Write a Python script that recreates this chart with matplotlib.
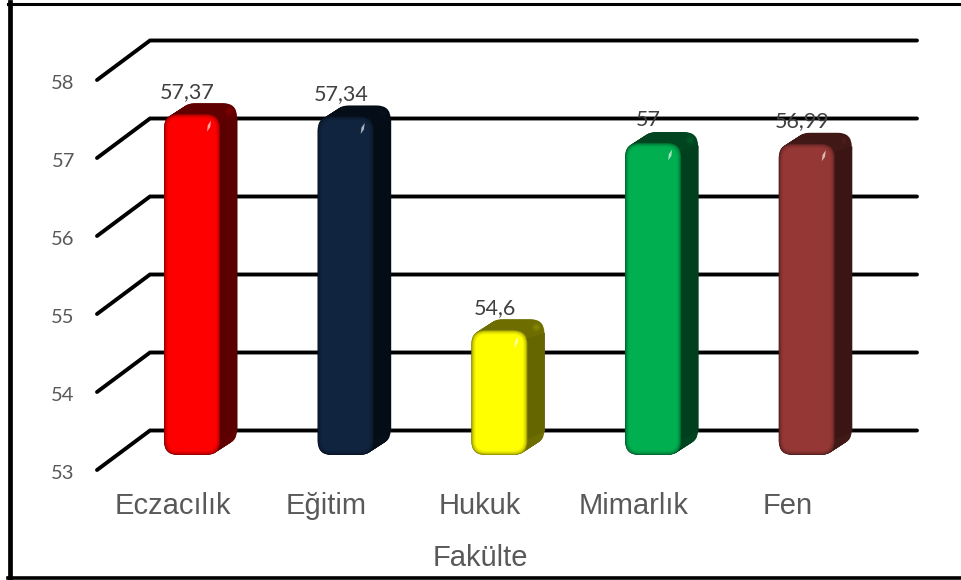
import matplotlib
matplotlib.use("Agg")
import matplotlib.pyplot as plt
import numpy as np
from matplotlib.lines import Line2D
from matplotlib.patches import FancyBboxPatch, Ellipse
from matplotlib.transforms import ScaledTranslation

faculties = ["Eczacılık", "Eğitim", "Hukuk", "Mimarlık", "Fen"]
scores = [57.37, 57.34, 54.6, 57.0, 56.99]
score_labels = ["57,37", "57,34", "54,6", "57", "56,99"]
value_ticks = [53, 54, 55, 56, 57, 58]
front_colors = ["#ff0000", "#10243f", "#ffff00", "#00b050", "#953735"]
side_colors = ["#5a0000", "#040c15", "#666600", "#00401d", "#3a1514"]
top_colors = ["#600000", "#050e18", "#6e6e00", "#004520", "#401816"]

W, H = 962, 580
X0, X1 = 97, 917          # plot area, pixels
Y0, Y1 = 470, 41
CAT_PX = 153.7            # pixels per category
VAL_PX = 78.0             # pixels per score unit
FIRST_BAR_PX = 192        # centre of the first bar

fig = plt.figure(figsize=(W / 100, H / 100), dpi=100, facecolor="white")
ax = fig.add_axes([X0 / W, 1 - Y0 / H, (X1 - X0) / W, (Y0 - Y1) / H])
ax.set_xlim((X0 - FIRST_BAR_PX) / CAT_PX, (X1 - FIRST_BAR_PX) / CAT_PX)
ax.set_ylim(53, 53 + (Y0 - Y1) / VAL_PX)
for s in ax.spines.values():
    s.set_visible(False)

# sheared floor/wall: one unit of depth moves 53 px right and 39 px up
DX = 53 / CAT_PX
DY = 39.5 / VAL_PX
xleft, xright = ax.get_xlim()
for v in value_ticks:
    ax.plot([xleft, xleft + DX, xright], [v, v + DY, v + DY], color="black", lw=2.8,
            solid_joinstyle="miter", solid_capstyle="round", zorder=1, clip_on=False)

# bar geometry
half_w = 28 / CAT_PX
base_lift = 15 / VAL_PX   # bars stand partway into the floor
depth_x = 17 / CAT_PX
depth_y = 11 / VAL_PX
round_x = 14 / CAT_PX
aspect = CAT_PX / VAL_PX


def rounded(x, y0, y1, color, inset_px=0.0, z=3, r=round_x):
    ix = inset_px / CAT_PX
    iy = inset_px / VAL_PX
    p = FancyBboxPatch((x - half_w + ix, y0 + iy), 2 * (half_w - ix), y1 - y0 - 2 * iy,
                       boxstyle=f"round,pad=0,rounding_size={max(r - ix, 0.001)}",
                       mutation_aspect=aspect, fc=color, ec="none", zorder=z)
    ax.add_patch(p)
    return p


def mix(c, t, amount):
    c = np.array(matplotlib.colors.to_rgb(c))
    t = np.array(matplotlib.colors.to_rgb(t))
    return tuple(c * (1 - amount) + t * amount)


for i, val in enumerate(scores):
    base = 53 + base_lift
    top = val + base_lift
    # extruded body swept from the back to the front
    for f in np.linspace(1, 0, 24):
        rounded(i + f * depth_x, base + f * depth_y, top + f * depth_y, top_colors[i], z=3)
    # right-hand side face
    ax.fill_between([i + half_w - 5 / CAT_PX, i + half_w + depth_x],
                    [base + 14 / VAL_PX, base + depth_y + 13 / VAL_PX],
                    [top - 9 / VAL_PX, top + depth_y - 13 / VAL_PX],
                    color=side_colors[i], lw=0, zorder=3.2)
    # lighter bevel where the top and side faces meet
    for size, amount in [(10, 0.08), (7, 0.14), (4, 0.2)]:
        ax.add_patch(Ellipse((i + half_w + depth_x - 8 / CAT_PX, top + depth_y - 8 / VAL_PX),
                             size / CAT_PX, size / VAL_PX,
                             fc=mix(side_colors[i], front_colors[i], amount), ec="none", zorder=3.3))
    # soft dark rim running into the front face
    rim = [0.42, 0.28, 0.19, 0.13, 0.08, 0.04, 0.0]
    for k, a in enumerate(rim):
        rounded(i, base, top, mix(front_colors[i], "black", a), inset_px=k * 0.7, z=3.5 + k * 0.05)
    # tilted specular glint in the upper-right corner
    cx, cy = i + 17 / CAT_PX, top - 12 / VAL_PX
    glint_x = np.array([-2.0, -1.2, 2.0, 1.2]) / CAT_PX
    glint_y = np.array([-5.5, 1.0, 5.5, -1.0]) / VAL_PX
    ax.fill(cx + glint_x, cy + glint_y, color=mix(front_colors[i], "white", 0.65), lw=0, zorder=4)
    ax.annotate(score_labels[i], (i, top), xytext=(-3.5, 9), textcoords="offset points",
                ha="center", va="bottom", fontsize=15.5, color="#404040",
                family="Lato", zorder=6)

ax.set_yticks(value_ticks)
ax.set_yticklabels([str(v) for v in value_ticks], family="Lato", fontsize=14.5, color="#595959")
ax.tick_params(axis="y", length=0, pad=16)
nudge = ScaledTranslation(0, -2 / 100, fig.dpi_scale_trans)
for lab in ax.get_yticklabels():
    lab.set_transform(lab.get_transform() + nudge)
ax.set_xticks(np.arange(len(faculties)) - 19.5 / CAT_PX)
ax.set_xticklabels(faculties, family="Liberation Sans", fontsize=21, color="#595959")
ax.tick_params(axis="x", length=0, pad=15.5)
ax.set_xlabel("Fakülte", family="Liberation Sans", fontsize=21, color="#595959")
ax.xaxis.set_label_coords((480 - X0) / (X1 - X0), -(572 - Y0) / (Y0 - Y1))
ax.xaxis.label.set_va("bottom")

# outer border: top, left and bottom edges
fx = lambda px: px / W
fy = lambda px: 1 - px / H
for xs, ys, lw in [((10.4, 10.4), (2, 579), 3.4),
                   ((8, 962), (3.7, 3.7), 2.2),
                   ((8, 962), (578, 578), 2.6)]:
    fig.add_artist(Line2D([fx(x) for x in xs], [fy(y) for y in ys], color="black", lw=lw,
                          transform=fig.transFigure))

fig.savefig("out.png", dpi=100)
